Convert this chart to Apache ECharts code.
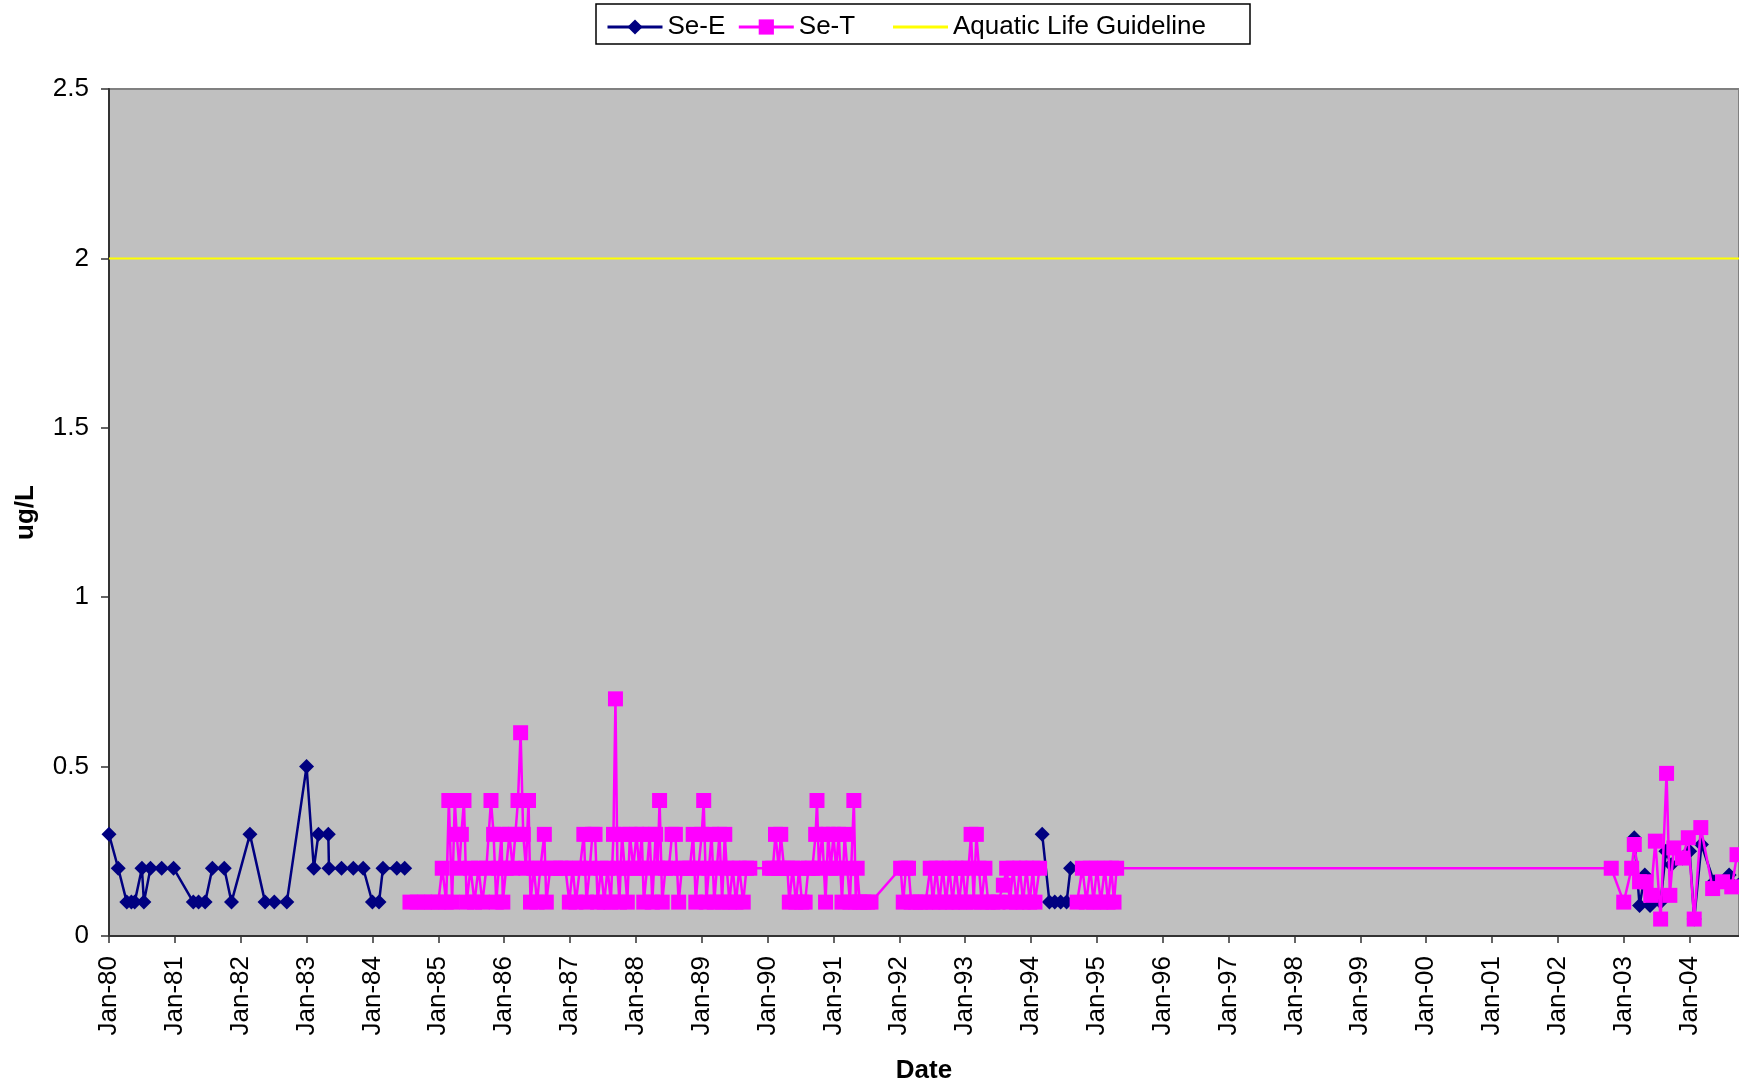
<!DOCTYPE html>
<html>
<head>
    <meta charset="utf-8">
    <script src="https://cdn.jsdelivr.net/npm/echarts@6/dist/echarts.min.js"></script>
    <title>Se</title>
    <style>
        body { margin: 0; background: #fff; }
        #main { width: 1739px; height: 1089px; }
    </style>
</head>
<body>
    <div id="main"></div>
    <script type="text/javascript">
    // dates are decimal years, null value = break in the line
    var seEDates = [
        1980.00, 1980.14, 1980.27, 1980.34, 1980.39, 1980.50, 1980.53, 1980.63, 1980.80, 1980.98,
        1981.28, 1981.36, 1981.46, 1981.57, 1981.75, 1981.86, 1982.14, 1982.37, 1982.51, 1982.70,
        1983.00, 1983.11, 1983.18, 1983.33, 1983.34, 1983.53, 1983.71, 1983.86, 1984.00, 1984.10,
        1984.16, 1984.37, 1984.49, 1989.00,
        1994.17, 1994.28, 1994.36, 1994.45, 1994.54, 1994.60, 1999.00,
        2003.16, 2003.24, 2003.32, 2003.40, 2003.56, 2003.64, 2003.72, 2003.89, 2004.00, 2004.07,
        2004.18, 2004.37, 2004.60, 2004.74
    ];
    var seEValues = [
        0.3, 0.2, 0.1, 0.1, 0.1, 0.2, 0.1, 0.2, 0.2, 0.2,
        0.1, 0.1, 0.1, 0.2, 0.2, 0.1, 0.3, 0.1, 0.1, 0.1,
        0.5, 0.2, 0.3, 0.3, 0.2, 0.2, 0.2, 0.2, 0.1, 0.1,
        0.2, 0.2, 0.2, null,
        0.3, 0.1, 0.1, 0.1, 0.1, 0.2, null,
        0.29, 0.09, 0.18, 0.09, 0.1, 0.25, 0.21, 0.23, 0.25, 0.05,
        0.27, 0.16, 0.18, 0.15
    ];
    var seTDates = [
        1984.57, 1984.68, 1984.79, 1984.90, 1985.00, 1985.06, 1985.12, 1985.16, 1985.21, 1985.25,
        1985.28, 1985.32, 1985.35, 1985.39, 1985.43, 1985.49, 1985.55, 1985.61, 1985.67, 1985.73,
        1985.80, 1985.84, 1985.88, 1985.92, 1985.96, 1985.98, 1986.03, 1986.08, 1986.13, 1986.17,
        1986.21, 1986.25, 1986.29, 1986.33, 1986.37, 1986.40, 1986.45, 1986.50, 1986.55, 1986.61,
        1986.64, 1986.70, 1986.78, 1986.86, 1986.93, 1986.99, 1987.04, 1987.09, 1987.15, 1987.21,
        1987.25, 1987.30, 1987.34, 1987.38, 1987.42, 1987.47, 1987.52, 1987.57, 1987.62, 1987.66,
        1987.69, 1987.72, 1987.75, 1987.79, 1987.83, 1987.87, 1987.91, 1987.96, 1988.01, 1988.05,
        1988.09, 1988.12, 1988.17, 1988.21, 1988.25, 1988.30, 1988.33, 1988.36, 1988.40, 1988.45,
        1988.50, 1988.55, 1988.60, 1988.65, 1988.70, 1988.76, 1988.82, 1988.87, 1988.91, 1988.95,
        1989.00, 1989.03, 1989.07, 1989.11, 1989.15, 1989.19, 1989.23, 1989.27, 1989.31, 1989.35,
        1989.38, 1989.42, 1989.47, 1989.52, 1989.57, 1989.63, 1989.68, 1989.73, 1990.03, 1990.08,
        1990.12, 1990.17, 1990.20, 1990.25, 1990.30, 1990.33, 1990.38, 1990.43, 1990.48, 1990.52,
        1990.57, 1990.62, 1990.68, 1990.73, 1990.75, 1990.78, 1990.83, 1990.88, 1990.92, 1990.96,
        1991.00, 1991.04, 1991.08, 1991.13, 1991.17, 1991.21, 1991.25, 1991.31, 1991.34, 1991.36,
        1991.40, 1991.46, 1991.52, 1991.57, 1992.02, 1992.06, 1992.10, 1992.14, 1992.18, 1992.25,
        1992.32, 1992.40, 1992.47, 1992.51, 1992.56, 1992.61, 1992.66, 1992.71, 1992.76, 1992.81,
        1992.86, 1992.91, 1992.96, 1993.01, 1993.05, 1993.09, 1993.13, 1993.17, 1993.21, 1993.25,
        1993.30, 1993.35, 1993.42, 1993.50, 1993.58, 1993.63, 1993.68, 1993.73, 1993.78, 1993.83,
        1993.88, 1993.93, 1993.98, 1994.03, 1994.06, 1994.13, 1994.40, 1994.70, 1994.78, 1994.84,
        1994.90, 1994.95, 1995.00, 1995.06, 1995.12, 1995.17, 1995.22, 1995.26, 1995.30, 2002.81,
        2003.00, 2003.12, 2003.16, 2003.24, 2003.34, 2003.41, 2003.48, 2003.56, 2003.65, 2003.70,
        2003.76, 2003.89, 2003.98, 2004.07, 2004.17, 2004.35, 2004.50, 2004.64, 2004.72
    ];
    var seTValues = [
        0.1, 0.1, 0.1, 0.1, 0.1, 0.2, 0.1, 0.4, 0.1, 0.4,
        0.3, 0.2, 0.3, 0.4, 0.1, 0.2, 0.1, 0.2, 0.1, 0.2,
        0.4, 0.3, 0.1, 0.2, 0.3, 0.1, 0.2, 0.3, 0.2, 0.3,
        0.4, 0.6, 0.3, 0.2, 0.4, 0.1, 0.2, 0.1, 0.2, 0.3,
        0.1, 0.2, 0.2, 0.2, 0.2, 0.1, 0.2, 0.1, 0.2, 0.3,
        0.1, 0.2, 0.3, 0.3, 0.1, 0.2, 0.1, 0.2, 0.1, 0.3,
        0.7, 0.2, 0.1, 0.3, 0.2, 0.1, 0.3, 0.2, 0.3, 0.2,
        0.3, 0.1, 0.2, 0.3, 0.1, 0.3, 0.2, 0.4, 0.1, 0.2,
        0.2, 0.3, 0.3, 0.1, 0.2, 0.2, 0.2, 0.3, 0.1, 0.2,
        0.3, 0.4, 0.1, 0.2, 0.3, 0.1, 0.2, 0.3, 0.1, 0.3,
        0.2, 0.1, 0.2, 0.1, 0.2, 0.1, 0.2, 0.2, 0.2, 0.2,
        0.3, 0.2, 0.3, 0.2, 0.2, 0.1, 0.2, 0.1, 0.2, 0.1,
        0.1, 0.2, 0.2, 0.3, 0.4, 0.2, 0.3, 0.1, 0.3, 0.2,
        0.3, 0.2, 0.3, 0.1, 0.3, 0.2, 0.1, 0.4, 0.1, 0.2,
        0.1, 0.1, 0.1, 0.1, 0.2, 0.1, 0.2, 0.2, 0.1, 0.1,
        0.1, 0.1, 0.2, 0.1, 0.2, 0.1, 0.2, 0.1, 0.2, 0.1,
        0.2, 0.1, 0.2, 0.1, 0.2, 0.3, 0.1, 0.3, 0.2, 0.1,
        0.2, 0.1, 0.1, 0.1, 0.15, 0.2, 0.1, 0.2, 0.1, 0.2,
        0.1, 0.2, 0.1, 0.2, 0.1, 0.2, null, 0.1, 0.2, 0.1,
        0.2, 0.1, 0.2, 0.1, 0.2, 0.1, 0.2, 0.1, 0.2, 0.2,
        0.1, 0.2, 0.27, 0.16, 0.16, 0.12, 0.28, 0.05, 0.48, 0.12,
        0.26, 0.23, 0.29, 0.05, 0.32, 0.14, 0.16, 0.145, 0.24
    ];
    var guideDates = [1980, 2004.75];
    var guideValues = [2, 2];
    var yTicks = [0, 0.5, 1, 1.5, 2, 2.5];

    var FONT = "'Liberation Sans', Arial, sans-serif";

    var pairs = function(xs, ys){
        var out = [];
        for(var i=0; i<xs.length; i++){
            out.push([xs[i], ys[i] === null ? null : ys[i]]);
        }
        return out;
    };

    // plain line icon for the guideline (no marker), box 55x19
    var lineIcon = 'path://M0,0L0,0M0,8L55,8L55,11L0,11ZM55,19L55,19';

    var myChart = echarts.init(document.getElementById('main'));
    var option = {
        animation: false,
        backgroundColor: '#ffffff',
        textStyle: { fontFamily: FONT },
        graphic: [{
            type: 'rect',
            z: 0,
            shape: { x: 596, y: 4, width: 654, height: 40 },
            style: { fill: '#ffffff', stroke: '#000000', lineWidth: 1.5 }
        }],
        legend: [{
            data: ['Se-E', 'Se-T'],
            left: 601, top: 9,
            itemWidth: 55, itemHeight: 19, itemGap: 12,
            lineStyle: { width: 3 },
            textStyle: { fontSize: 26, color: '#000', fontFamily: FONT }
        }, {
            data: [{ name: 'Aquatic Life Guideline', icon: lineIcon }],
            left: 888, top: 9,
            itemWidth: 55, itemHeight: 19,
            textStyle: { fontSize: 26, color: '#000', fontFamily: FONT }
        }],
        grid: {
            left: 109, top: 89, right: 0, bottom: 150,
            show: true, backgroundColor: '#c0c0c0',
            borderColor: '#808080', borderWidth: 2
        },
        xAxis: {
            type: 'value',
            min: guideDates[0], max: guideDates[1], interval: 1,
            name: 'Date', nameLocation: 'middle', nameGap: 122,
            nameTextStyle: { fontSize: 26, fontWeight: 'bold', color: '#000', fontFamily: FONT },
            axisLine: { show: true, lineStyle: { color: '#333', width: 2 } },
            axisTick: { show: true, length: 7, lineStyle: { color: '#333', width: 1.5 } },
            splitLine: { show: false },
            axisLabel: {
                rotate: 90, margin: 20, fontSize: 26, color: '#000', fontFamily: FONT,
                showMaxLabel: false,
                formatter: function(v){
                    if (Math.abs(v - Math.round(v)) > 1e-6) return '';
                    var yy = Math.round(v) % 100;
                    return 'Jan-' + (yy < 10 ? '0' + yy : yy);
                }
            }
        },
        yAxis: {
            type: 'value',
            min: yTicks[0], max: yTicks[yTicks.length - 1], interval: 0.5,
            name: 'ug/L', nameLocation: 'middle', nameGap: 70,
            nameTextStyle: { fontSize: 26, fontWeight: 'bold', color: '#000', fontFamily: FONT },
            axisLine: { show: true, lineStyle: { color: '#333', width: 2 } },
            axisTick: { show: true, length: 8, lineStyle: { color: '#333', width: 1.5 } },
            splitLine: { show: false },
            axisLabel: { margin: 20, fontSize: 26, color: '#000', fontFamily: FONT }
        },
        series: [{
            name: 'Se-E',
            type: 'line',
            data: pairs(seEDates, seEValues),
            connectNulls: false,
            symbol: 'diamond', symbolSize: 15,
            itemStyle: { color: '#000080' },
            lineStyle: { color: '#000080', width: 2.5 },
            z: 2
        }, {
            name: 'Se-T',
            type: 'line',
            data: pairs(seTDates, seTValues),
            connectNulls: false,
            symbol: 'rect', symbolSize: 15,
            itemStyle: { color: '#ff00ff' },
            lineStyle: { color: '#ff00ff', width: 2.5 },
            z: 3
        }, {
            name: 'Aquatic Life Guideline',
            type: 'line',
            data: pairs(guideDates, guideValues),
            symbol: 'none',
            itemStyle: { color: '#ffff00' },
            lineStyle: { color: '#ffff00', width: 2 },
            z: 1
        }]
    };
    myChart.setOption(option);
    </script>
</body>
</html>
